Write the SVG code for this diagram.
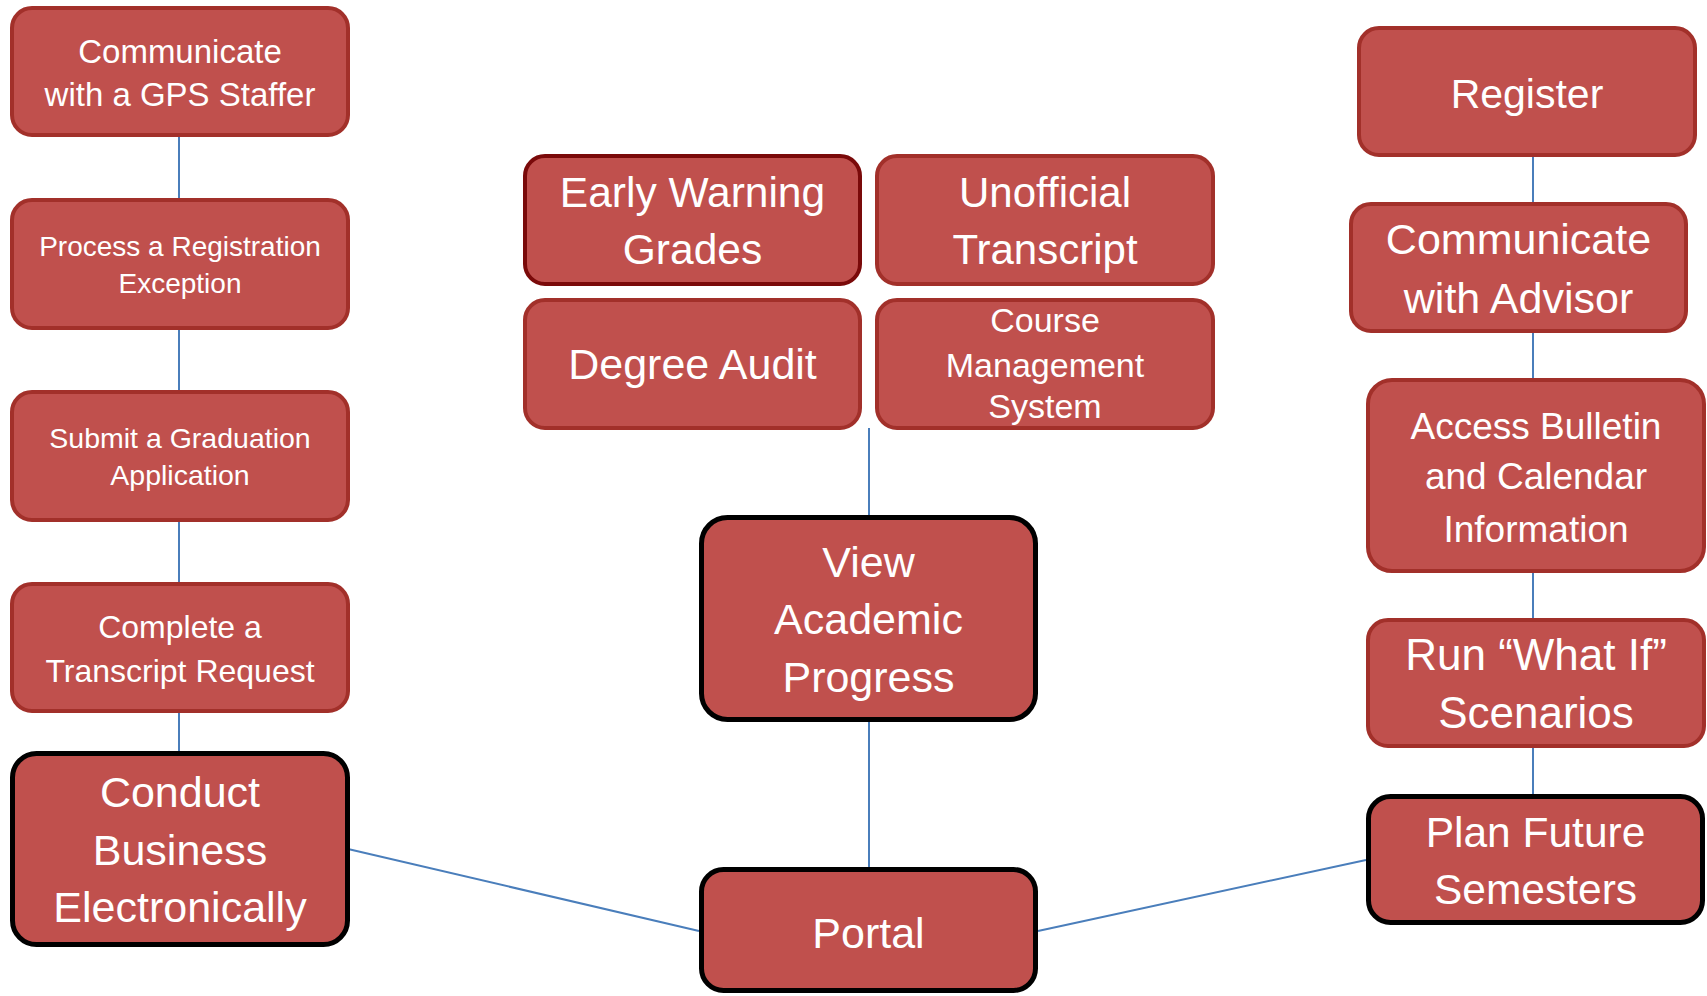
<svg xmlns="http://www.w3.org/2000/svg" width="1707" height="996" viewBox="0 0 1707 996">
<style>
.box{fill:#c0504d;stroke:#a2302a;stroke-width:4}
.dark{fill:#c0504d;stroke:#7a0a0a;stroke-width:4}
.key{fill:#c0504d;stroke:#000;stroke-width:5}
text{font-family:"Liberation Sans",Arial,sans-serif;fill:#fff;text-anchor:middle}
.conn{stroke:#4a7ebb;stroke-width:2;fill:none}
</style>
<rect width="1707" height="996" fill="#fff"/>
<g id="connectors">
<line class="conn" x1="179" y1="137" x2="179" y2="198"/>
<line class="conn" x1="179" y1="330" x2="179" y2="390"/>
<line class="conn" x1="179" y1="522" x2="179" y2="582"/>
<line class="conn" x1="179" y1="713" x2="179" y2="751"/>
<line class="conn" x1="869" y1="428" x2="869" y2="515"/>
<line class="conn" x1="869" y1="722" x2="869" y2="867"/>
<line class="conn" x1="1533" y1="157" x2="1533" y2="202"/>
<line class="conn" x1="1533" y1="333" x2="1533" y2="378"/>
<line class="conn" x1="1533" y1="573" x2="1533" y2="618"/>
<line class="conn" x1="1533" y1="748" x2="1533" y2="794"/>
<line class="conn" x1="348" y1="849" x2="699" y2="931"/>
<line class="conn" x1="1038" y1="931" x2="1366" y2="860"/>
</g>
<g id="gps-staffer">
<rect class="box" x="12" y="8" width="336" height="127" rx="20"/>
<text x="180" y="63" font-size="33">Communicate</text>
<text x="180" y="106" font-size="33">with a GPS Staffer</text>
</g>
<g id="registration-exception">
<rect class="box" x="12" y="200" width="336" height="128" rx="20"/>
<text x="180" y="256" font-size="28">Process a Registration</text>
<text x="180" y="293" font-size="28">Exception</text>
</g>
<g id="graduation-application">
<rect class="box" x="12" y="392" width="336" height="128" rx="20"/>
<text x="180" y="448" font-size="28.5">Submit a Graduation</text>
<text x="180" y="485" font-size="28.5">Application</text>
</g>
<g id="transcript-request">
<rect class="box" x="12" y="584" width="336" height="127" rx="20"/>
<text x="180" y="638" font-size="32">Complete a</text>
<text x="180" y="682" font-size="32">Transcript Request</text>
</g>
<g id="conduct-business">
<rect class="key" x="12.5" y="753.5" width="335" height="191" rx="24"/>
<text x="180" y="807" font-size="43">Conduct</text>
<text x="180" y="865" font-size="43">Business</text>
<text x="180" y="922" font-size="43">Electronically</text>
</g>
<g id="early-warning">
<rect class="dark" x="525" y="156" width="335" height="128" rx="20"/>
<text x="692.5" y="207" font-size="42.5">Early Warning</text>
<text x="692.5" y="264" font-size="42.5">Grades</text>
</g>
<g id="unofficial-transcript">
<rect class="box" x="877" y="156" width="336" height="128" rx="20"/>
<text x="1045" y="207" font-size="42">Unofficial</text>
<text x="1045" y="264" font-size="42">Transcript</text>
</g>
<g id="degree-audit">
<rect class="box" x="525" y="300" width="335" height="128" rx="20"/>
<text x="692.5" y="379" font-size="43">Degree Audit</text>
</g>
<g id="course-management">
<rect class="box" x="877" y="300" width="336" height="128" rx="20"/>
<text x="1045" y="332" font-size="34">Course</text>
<text x="1045" y="377" font-size="34">Management</text>
<text x="1045" y="418" font-size="34">System</text>
</g>
<g id="view-progress">
<rect class="key" x="701.5" y="517.5" width="334" height="202" rx="26"/>
<text x="868.5" y="577" font-size="43">View</text>
<text x="868.5" y="634" font-size="43">Academic</text>
<text x="868.5" y="692" font-size="43">Progress</text>
</g>
<g id="portal">
<rect class="key" x="701.5" y="869.5" width="334" height="121" rx="22"/>
<text x="868.5" y="948" font-size="43">Portal</text>
</g>
<g id="register">
<rect class="box" x="1359" y="28" width="336" height="127" rx="20"/>
<text x="1527" y="108" font-size="41">Register</text>
</g>
<g id="communicate-advisor">
<rect class="box" x="1351" y="204" width="335" height="127" rx="20"/>
<text x="1518.5" y="254" font-size="43">Communicate</text>
<text x="1518.5" y="313" font-size="43">with Advisor</text>
</g>
<g id="bulletin-calendar">
<rect class="box" x="1368" y="380" width="336" height="191" rx="24"/>
<text x="1536" y="439" font-size="37">Access Bulletin</text>
<text x="1536" y="489" font-size="37">and Calendar</text>
<text x="1536" y="542" font-size="37">Information</text>
</g>
<g id="what-if">
<rect class="box" x="1368" y="620" width="336" height="126" rx="20"/>
<text x="1536" y="670" font-size="44">Run “What If”</text>
<text x="1536" y="728" font-size="44">Scenarios</text>
</g>
<g id="plan-future">
<rect class="key" x="1368.5" y="796.5" width="334" height="126" rx="22"/>
<text x="1535.5" y="847" font-size="42.5">Plan Future</text>
<text x="1535.5" y="904" font-size="42.5">Semesters</text>
</g>
</svg>
